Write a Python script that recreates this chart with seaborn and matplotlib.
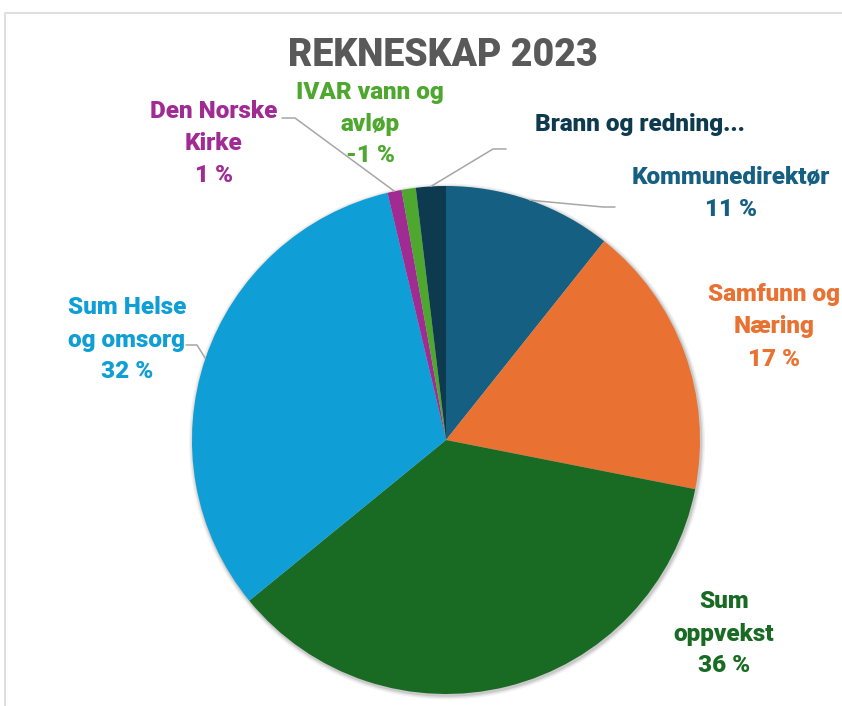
import numpy as np
import seaborn as sns
import matplotlib.pyplot as plt

# === Data ===
categories = ["Kommunedirektør", "Samfunn og\nNæring", "Sum\noppvekst", "Sum Helse\nog omsorg",
              "Den Norske\nKirke", "IVAR vann og\navløp", "Brann og redning..."]
values = [10.7, 17.4, 36.0, 32.2, 0.9, -0.9, 1.9]
show_pct = [True, True, True, True, True, True, False]
colors = ["#156082", "#E97132", "#196B24", "#0F9ED5", "#A02B93", "#4EA72E", "#0E3A50"]
title = "REKNESKAP 2023"

# === Layout (pixels, y down) ===
W, H = 842, 706
cx, cy, R = 446, 440, 254
label_xy = [(731, 193), (774, 327), (724, 634), (127, 340), (214, 143), (370, 124), (640, 124)]
# leader line knee / end points (None = no leader)
leaders = [[(603, 207), (615, 207)], None, None, [(197, 345), (186, 345)],
           [(295, 118), (282, 118)], None, [(493, 149), (506, 149)]]

sns.set_theme(style="white")
plt.rcParams['font.family'] = ['Roboto', 'DejaVu Sans']

fig = plt.figure(figsize=(W / 100, H / 100), dpi=100)
ax = fig.add_axes([0, 0, 1, 1])

def py(y):
    return H - y

# soft shadow behind the pie
for k, a in [(4, 0.05), (2.5, 0.07), (1.2, 0.10)]:
    ax.add_patch(plt.Circle((cx + 1, py(cy) - 1.5), R + k, color="black", alpha=a, lw=0, zorder=0))

abs_vals = np.abs(values)
ax.pie(abs_vals, colors=colors, startangle=90, counterclock=False,
       center=(cx, py(cy)), radius=R, wedgeprops=dict(linewidth=0, zorder=1))

# === Labels & leader lines ===
total = abs_vals.sum()
cum = np.cumsum(abs_vals) - abs_vals / 2
for i, name in enumerate(categories):
    txt = name
    if show_pct[i]:
        txt += f"\n{values[i]:.0f} %"
    lx, ly = label_xy[i]
    ax.text(lx, py(ly), txt, ha="center", va="center", multialignment="center",
            color=colors[i], fontsize=17.5, fontweight=900, linespacing=1.5)
    if leaders[i] is not None:
        th = np.deg2rad(360 * cum[i] / total)
        ex, ey = cx + R * np.sin(th), cy - R * np.cos(th)
        xs = [ex] + [p[0] for p in leaders[i]]
        ys = [py(ey)] + [py(p[1]) for p in leaders[i]]
        ax.plot(xs, ys, color="#a6a6a6", lw=1.1, zorder=3)

ax.text(443, py(56), title, ha="center", va="center", color="#595959",
        fontsize=27, fontweight=900)

# chart area border
ax.plot([4.5, 4.5, W + 5], [-5, py(12.5), py(12.5)], color="#d9d9d9", lw=1.2, clip_on=False)

ax.set_xlim(0, W)
ax.set_ylim(0, H)
ax.set_aspect("auto")
ax.axis("off")

plt.savefig("out.png", dpi=100)
